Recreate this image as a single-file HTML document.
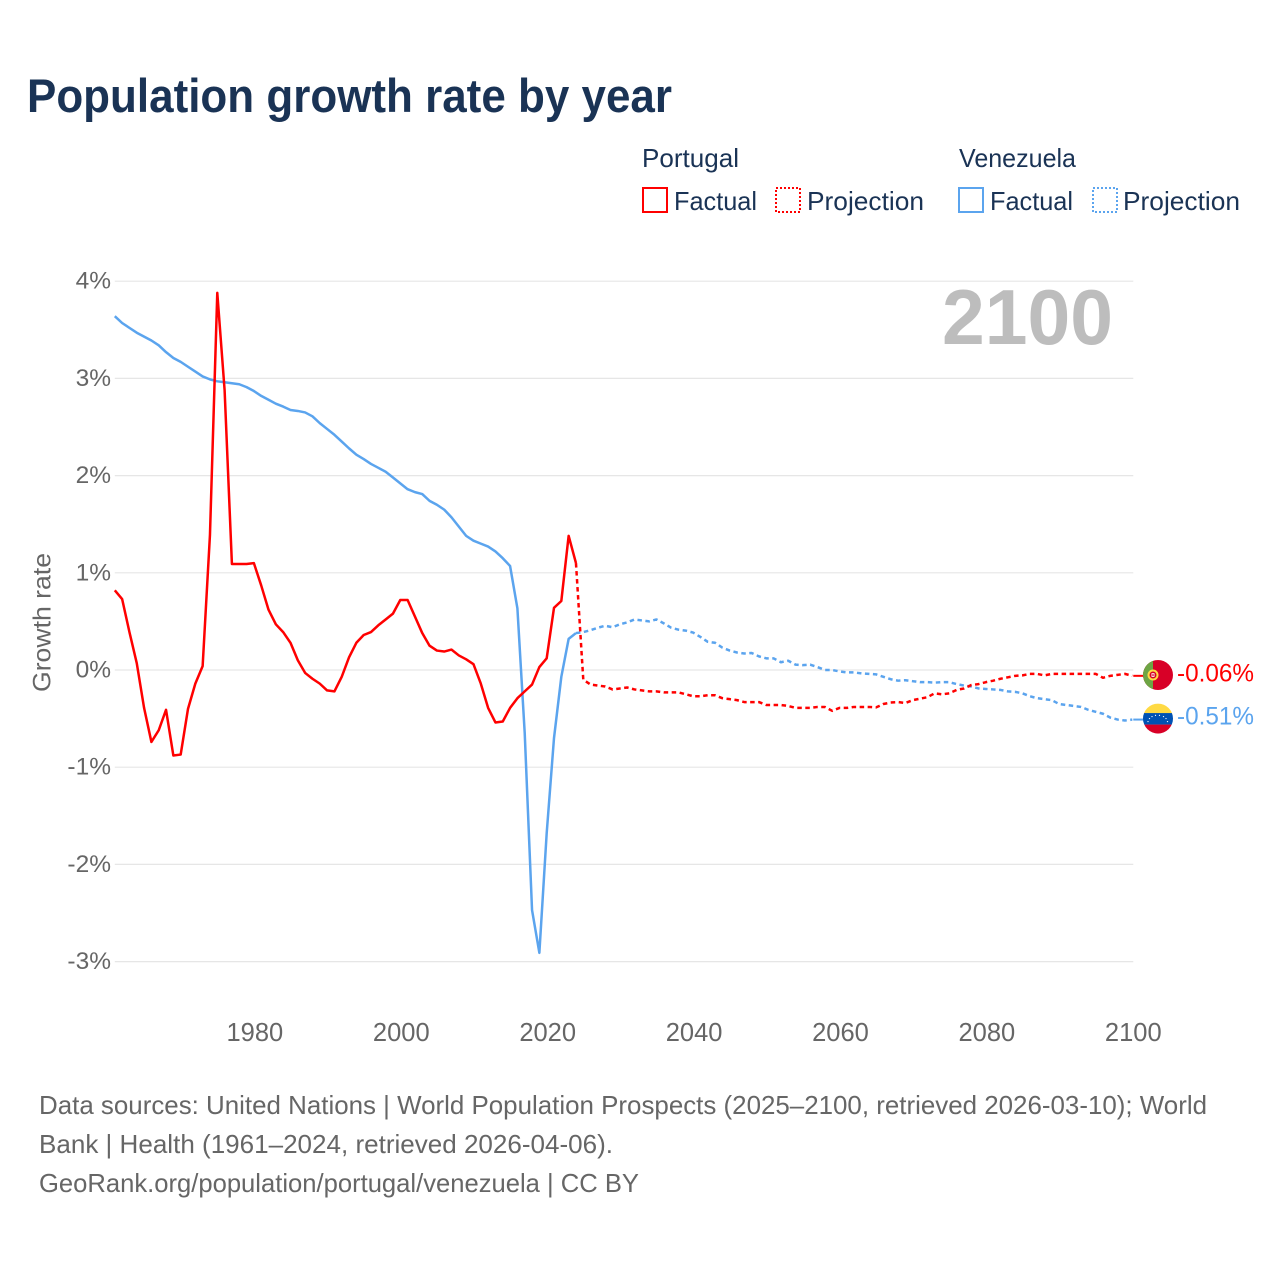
<!DOCTYPE html>
<html lang="en">
<head>
<meta charset="utf-8">
<title>Population growth rate by year</title>
<style>
html,body{margin:0;padding:0;background:#fff;}
svg{display:block;font-family:"Liberation Sans",sans-serif;}
</style>
</head>
<body>
<svg id="chart" xmlns="http://www.w3.org/2000/svg" width="1280" height="1280" viewBox="0 0 1280 1280">
  <rect x="0" y="0" width="1280" height="1280" fill="#ffffff"/>
  <text x="27" y="112" font-size="47" font-weight="700" fill="#1a3355" textLength="645" lengthAdjust="spacingAndGlyphs">Population growth rate by year</text>

  <g font-size="26" fill="#1a3355">
    <text x="642" y="167" textLength="97" lengthAdjust="spacingAndGlyphs">Portugal</text>
    <text x="959" y="167" textLength="117" lengthAdjust="spacingAndGlyphs">Venezuela</text>
    <rect x="643" y="188" width="24" height="24" fill="none" stroke="#ff0000" stroke-width="2"/>
    <text x="674" y="210" textLength="83" lengthAdjust="spacingAndGlyphs">Factual</text>
    <rect x="776" y="188" width="24" height="24" fill="none" stroke="#ff0000" stroke-width="2" stroke-dasharray="2 2"/>
    <text x="807" y="210" textLength="117" lengthAdjust="spacingAndGlyphs">Projection</text>
    <rect x="959" y="188" width="24" height="24" fill="none" stroke="#5ba4ee" stroke-width="2"/>
    <text x="990" y="210" textLength="83" lengthAdjust="spacingAndGlyphs">Factual</text>
    <rect x="1093" y="188" width="24" height="24" fill="none" stroke="#5ba4ee" stroke-width="2" stroke-dasharray="2 2"/>
    <text x="1123" y="210" textLength="117" lengthAdjust="spacingAndGlyphs">Projection</text>
  </g>

  <g id="grid"></g>
  <g id="y-ticks" font-size="24.500" fill="#666666" text-anchor="end"></g>
  <g id="x-ticks" font-size="25.500" fill="#666666" text-anchor="middle"></g>

  <text transform="translate(50.500 622.500) rotate(-90)" font-size="25" fill="#666666" text-anchor="middle" textLength="139" lengthAdjust="spacingAndGlyphs">Growth rate</text>
  <text x="1113" y="344" font-size="78" font-weight="700" fill="#bdbdbd" text-anchor="end" textLength="171" lengthAdjust="spacingAndGlyphs">2100</text>

  <g id="series"></g>

  <g id="flag-portugal">
    <clipPath id="clip-pt"><circle cx="0" cy="0" r="15"/></clipPath>
    <g clip-path="url(#clip-pt)">
      <rect x="-15" y="-15" width="30" height="30" fill="#d80027"/>
      <rect x="-15" y="-15" width="10" height="30" fill="#6da544"/>
    </g>
    <circle cx="-5" cy="0" r="4.500" fill="#d80027" stroke="#ffda44" stroke-width="2"/>
    <rect x="-6.500" y="-1.800" width="3" height="3.600" fill="#ffffff"/>
    <rect x="-5.700" y="-0.900" width="1.400" height="1.800" fill="#d80027"/>
  </g>
  <g id="flag-venezuela">
    <clipPath id="clip-ve"><circle cx="0" cy="0" r="15"/></clipPath>
    <g clip-path="url(#clip-ve)">
      <rect x="-15" y="-15" width="30" height="10" fill="#ffda44"/>
      <rect x="-15" y="-5.500" width="30" height="11.500" fill="#0052b4"/>
      <rect x="-15" y="6" width="30" height="9" fill="#d80027"/>
    </g>
    <g fill="#ffffff">
      <circle cx="-10" cy="3" r=".6"/><circle cx="-8.500" cy="0" r=".6"/><circle cx="-6" cy="-2" r=".6"/>
      <circle cx="-2.500" cy="-3.200" r=".6"/><circle cx="1.500" cy="-3.200" r=".6"/><circle cx="5.500" cy="-2" r=".6"/>
      <circle cx="8" cy="0" r=".6"/><circle cx="9.500" cy="3" r=".6"/>
    </g>
  </g>

  <text id="end-label-portugal" x="1177" font-size="25" fill="#ff0000" textLength="77" lengthAdjust="spacingAndGlyphs"></text>
  <text id="end-label-venezuela" x="1177" font-size="25" fill="#5ba4ee" textLength="77" lengthAdjust="spacingAndGlyphs"></text>

  <g font-size="26" fill="#666666">
    <text x="39" y="1114" textLength="1168" lengthAdjust="spacingAndGlyphs">Data sources: United Nations | World Population Prospects (2025–2100, retrieved 2026-03-10); World</text>
    <text x="39" y="1153" textLength="574" lengthAdjust="spacingAndGlyphs">Bank | Health (1961–2024, retrieved 2026-04-06).</text>
    <text x="39" y="1192" textLength="600" lengthAdjust="spacingAndGlyphs">GeoRank.org/population/portugal/venezuela | CC BY</text>
  </g>
</svg>

<script>
const yTickValues = [4, 3, 2, 1, 0, -1, -2, -3];
const yTickLabels = ["4%", "3%", "2%", "1%", "0%", "-1%", "-2%", "-3%"];
const xTickYears = [1980, 2000, 2020, 2040, 2060, 2080, 2100];
const xTickLabels = ["1980", "2000", "2020", "2040", "2060", "2080", "2100"];

const factualStartYear = 1961;
const projectionStartYear = 2024;

const portugalFactual = [
  0.82, 0.73, 0.39, 0.07, -0.39, -0.74, -0.62, -0.41, -0.88, -0.87,
  -0.40, -0.14, 0.04, 1.39, 3.88, 2.88, 1.09, 1.09, 1.09, 1.10,
  0.87, 0.62, 0.47, 0.39, 0.28, 0.10, -0.03, -0.09, -0.14, -0.21,
  -0.22, -0.07, 0.13, 0.28, 0.36, 0.39, 0.46, 0.52, 0.58, 0.72,
  0.72, 0.55, 0.38, 0.25, 0.20, 0.19, 0.21, 0.15, 0.11, 0.06,
  -0.14, -0.39, -0.54, -0.53, -0.39, -0.29, -0.22, -0.15, 0.03, 0.12,
  0.64, 0.71, 1.38, 1.10
];
const portugalProjection = [
  1.10, -0.10, -0.15, -0.16, -0.17, -0.20, -0.19, -0.18, -0.20, -0.21, -0.22,
  -0.22, -0.23, -0.23, -0.23, -0.25, -0.27, -0.27, -0.26, -0.26, -0.29,
  -0.30, -0.31, -0.33, -0.33, -0.33, -0.36, -0.36, -0.36, -0.37, -0.39,
  -0.39, -0.39, -0.38, -0.38, -0.42, -0.39, -0.39, -0.38, -0.38, -0.38,
  -0.385, -0.35, -0.335, -0.33, -0.34, -0.31, -0.295, -0.28, -0.24, -0.25,
  -0.24, -0.205, -0.19, -0.155, -0.145, -0.125, -0.11, -0.09, -0.075, -0.06,
  -0.055, -0.04, -0.04, -0.055, -0.04, -0.04, -0.04, -0.04, -0.04, -0.04,
  -0.04, -0.08, -0.06, -0.05, -0.04, -0.06
];
const venezuelaFactual = [
  3.64, 3.57, 3.52, 3.47, 3.43, 3.39, 3.34, 3.27, 3.21, 3.17,
  3.12, 3.07, 3.02, 2.99, 2.97, 2.96, 2.95, 2.94, 2.91, 2.87,
  2.82, 2.78, 2.74, 2.71, 2.675, 2.665, 2.65, 2.61, 2.54, 2.48,
  2.42, 2.35, 2.28, 2.215, 2.17, 2.12, 2.08, 2.04, 1.98, 1.92,
  1.86, 1.83, 1.81, 1.74, 1.70, 1.65, 1.57, 1.475, 1.38, 1.33,
  1.30, 1.27, 1.22, 1.15, 1.07, 0.635, -0.65, -2.47, -2.91, -1.68,
  -0.70, -0.07, 0.32, 0.38
];
const venezuelaProjection = [
  0.38, 0.39, 0.41, 0.435, 0.455, 0.44, 0.47, 0.49, 0.52, 0.51, 0.50,
  0.52, 0.48, 0.435, 0.415, 0.405, 0.385, 0.34, 0.29, 0.28, 0.23,
  0.20, 0.18, 0.17, 0.175, 0.14, 0.12, 0.12, 0.08, 0.095, 0.055,
  0.05, 0.055, 0.03, 0.00, 0.00, -0.015, -0.025, -0.025, -0.035, -0.04,
  -0.045, -0.07, -0.095, -0.11, -0.105, -0.115, -0.125, -0.125, -0.13, -0.125,
  -0.125, -0.145, -0.16, -0.17, -0.19, -0.195, -0.20, -0.205, -0.22, -0.225,
  -0.24, -0.27, -0.29, -0.30, -0.31, -0.35, -0.36, -0.37, -0.38, -0.41,
  -0.43, -0.45, -0.49, -0.51, -0.52, -0.51
];
const portugalEndLabel = "-0.06%";
const venezuelaEndLabel = "-0.51%";

const SVG_NS = "http://www.w3.org/2000/svg";
const RED = "#ff0000";
const BLUE = "#5ba4ee";

function xScale(year) {
  return 114.8 + (year - 1961) * 7.32;
}
function yScale(value) {
  return 670 - value * 97.2;
}
function buildPath(values, startYear) {
  let d = "";
  for (let i = 0; i < values.length; i++) {
    d += (i === 0 ? "M" : "L") + xScale(startYear + i).toFixed(2) + " " + yScale(values[i]).toFixed(2);
  }
  return d;
}

const gridGroup = document.getElementById("grid");
yTickValues.forEach(function (v) {
  const line = document.createElementNS(SVG_NS, "line");
  
  
  line.setAttribute("x1", xScale(1961));
  line.setAttribute("x2", xScale(2100) + 1);
  line.setAttribute("y1", yScale(v));
  line.setAttribute("y2", yScale(v));
  line.setAttribute("stroke", "#e6e6e6");
  line.setAttribute("stroke-width", "1.2");
  gridGroup.appendChild(line);
});

const yTickGroup = document.getElementById("y-ticks");
yTickValues.forEach(function (v, i) {
  const t = document.createElementNS(SVG_NS, "text");
  
  
  t.setAttribute("x", 111);
  t.setAttribute("y", yScale(v) + 7.5);
  t.textContent = yTickLabels[i];
  yTickGroup.appendChild(t);
});

const xTickGroup = document.getElementById("x-ticks");
xTickYears.forEach(function (year, i) {
  const t = document.createElementNS(SVG_NS, "text");
  
  
  t.setAttribute("x", xScale(year) + 1);
  t.setAttribute("y", 1041);
  t.textContent = xTickLabels[i];
  xTickGroup.appendChild(t);
});

const seriesGroup = document.getElementById("series");

function addLine(values, startYear, color, dashed, name) {
  const p = document.createElementNS(SVG_NS, "path");
  
  
  p.setAttribute("d", buildPath(values, startYear));
  p.setAttribute("fill", "none");
  p.setAttribute("stroke", color);
  p.setAttribute("stroke-width", "2.5");
  p.setAttribute("stroke-linejoin", "round");
  if (dashed) {
    p.setAttribute("stroke-dasharray", "4.5 3.5");
  }
  seriesGroup.appendChild(p);
}

function addConnector(endValue, color, name) {
  const c = document.createElementNS(SVG_NS, "line");
  
  
  c.setAttribute("x1", xScale(2100) + 1);
  c.setAttribute("x2", 1145);
  c.setAttribute("y1", yScale(endValue));
  c.setAttribute("y2", yScale(endValue));
  c.setAttribute("stroke", color);
  c.setAttribute("stroke-width", "2");
  seriesGroup.appendChild(c);
}

addLine(venezuelaFactual, factualStartYear, BLUE, false, "line-venezuela-factual");
addLine(venezuelaProjection, projectionStartYear, BLUE, true, "line-venezuela-projection");
addLine(portugalFactual, factualStartYear, RED, false, "line-portugal-factual");
addLine(portugalProjection, projectionStartYear, RED, true, "line-portugal-projection");

const portugalEnd = portugalProjection[portugalProjection.length - 1];
const venezuelaEnd = venezuelaProjection[venezuelaProjection.length - 1];
addConnector(portugalEnd, RED, "connector-portugal");
addConnector(venezuelaEnd, BLUE, "connector-venezuela");

document.getElementById("flag-portugal").setAttribute("transform", "translate(1158 " + (yScale(portugalEnd) - 0.8) + ")");
document.getElementById("flag-venezuela").setAttribute("transform", "translate(1158 " + (yScale(venezuelaEnd) - 1) + ")");

const ptLabel = document.getElementById("end-label-portugal");
ptLabel.setAttribute("y", yScale(portugalEnd) + 5.5);
ptLabel.textContent = portugalEndLabel;
const veLabel = document.getElementById("end-label-venezuela");
veLabel.setAttribute("y", yScale(venezuelaEnd) + 5);
veLabel.textContent = venezuelaEndLabel;
</script>
</body>
</html>
